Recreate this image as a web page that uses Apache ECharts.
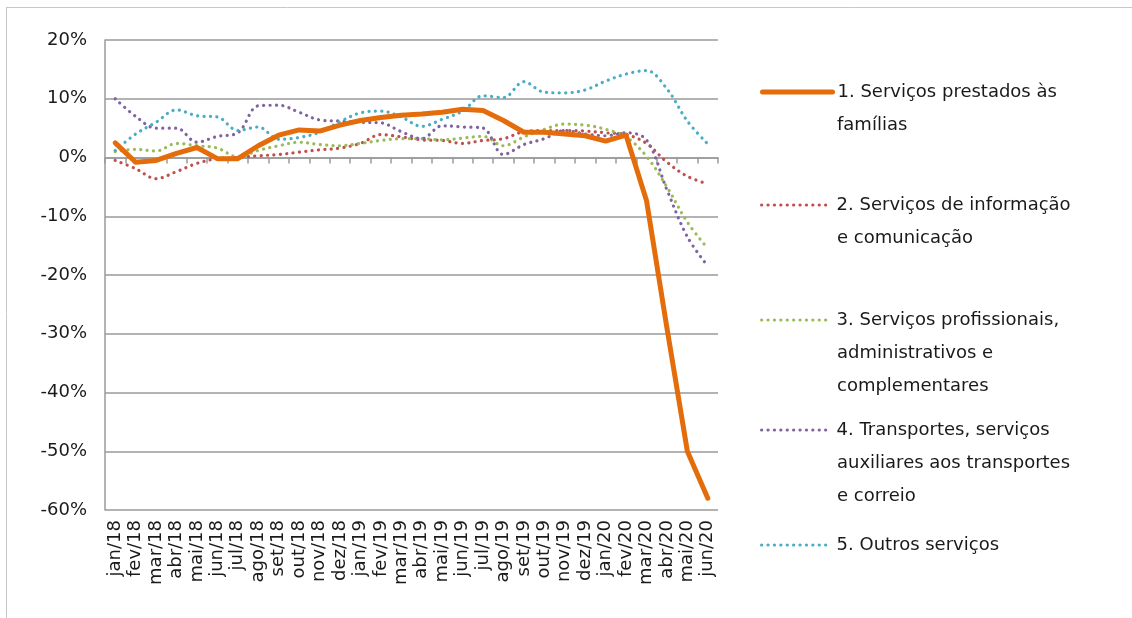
<!DOCTYPE html>
<html>
<head>
<meta charset="utf-8">
<script src="https://cdn.jsdelivr.net/npm/echarts@6/dist/echarts.min.js"></script>
<style>
html,body{margin:0;padding:0;background:#fff;}
#chart{width:1132px;height:618px;}
</style>
</head>
<body>
<div id="chart"></div>
<script>
const categories = ['jan/18','fev/18','mar/18','abr/18','mai/18','jun/18','jul/18','ago/18','set/18','out/18','nov/18','dez/18','jan/19','fev/19','mar/19','abr/19','mai/19','jun/19','jul/19','ago/19','set/19','out/19','nov/19','dez/19','jan/20','fev/20','mar/20','abr/20','mai/20','jun/20'];

const seriesNames = [
  '1. Serviços prestados às\nfamílias',
  '2. Serviços de informação\ne comunicação',
  '3. Serviços profissionais,\nadministrativos e\ncomplementares',
  '4. Transportes, serviços\nauxiliares aos transportes\ne correio',
  '5. Outros serviços'
];

const familias = [2.5, -0.8, -0.5, 0.7, 1.7, -0.2, -0.2, 2.0, 3.8, 4.7, 4.5, 5.5, 6.3, 6.8, 7.2, 7.4, 7.7, 8.2, 8.0, 6.3, 4.3, 4.3, 4.0, 3.7, 2.8, 3.8, -7.3, -29, -50, -58];
const informacao = [-0.5, -1.9, -3.6, -2.4, -1.0, -0.2, 0, 0.3, 0.5, 0.9, 1.3, 1.6, 2.4, 3.9, 3.5, 3.0, 2.9, 2.4, 2.9, 3.2, 4.4, 4.6, 4.6, 4.5, 4.2, 3.9, 2.4, -0.8, -3.2, -4.5];
const profissionais = [1.0, 1.4, 1.1, 2.4, 2.0, 1.6, 0.1, 1.2, 2.0, 2.6, 2.2, 2.0, 2.4, 2.9, 3.2, 3.2, 3.0, 3.3, 3.6, 2.0, 3.5, 4.8, 5.7, 5.5, 4.8, 3.5, 0.2, -5, -11, -15.5];
const transportes = [10.0, 7.0, 5.0, 5.0, 2.6, 3.6, 4.2, 8.8, 8.9, 7.7, 6.4, 6.2, 6.0, 5.9, 4.4, 3.2, 5.4, 5.2, 5.0, 0.5, 2.2, 3.2, 4.6, 4.0, 3.7, 4.2, 3.0, -5.5, -13.5, -18.5];
const outros = [1.2, 4.0, 6.0, 8.1, 7.1, 6.9, 4.6, 5.2, 3.1, 3.4, 4.3, 6.1, 7.6, 7.9, 6.9, 5.3, 6.5, 7.9, 10.5, 10.2, 12.9, 11.1, 11.0, 11.5, 13.0, 14.2, 14.8, 11.7, 6.2, 2.3];

const yTicks = {min: -60, max: 20, interval: 10};

const colors = ['#E46C0A', '#C0504D', '#9BBB59', '#8064A2', '#4BACC6'];
const FONT = 'DejaVu Sans';
const LH = 33;
const LEG_LEFT = 760, LEG_ICON_W = 70, LEG_TEXT_GAP = 5;

const chart = echarts.init(document.getElementById('chart'), null, {renderer: 'canvas'});

const mainLine = {width: 5, cap: 'round', join: 'round'};
const dotLine = {width: 3.2, type: [0.1, 6.3], cap: 'round'};

const dataSets = [familias, informacao, profissionais, transportes, outros];
const series = dataSets.map((d, i) => {
  const isMain = i === 0;
  return {
    name: seriesNames[i],
    type: 'line',
    data: d,
    xAxisIndex: 0,
    symbol: 'none',
    smooth: isMain ? false : 0.35,
    z: isMain ? 10 : 5,
    lineStyle: Object.assign({color: colors[i]}, isMain ? mainLine : dotLine),
    itemStyle: {color: colors[i]}
  };
});

// one legend per series: icon with first line; further lines as text below it
const legendFirstLineY = [92, 205, 320, 430, 545];
const legends = seriesNames.map((nm, i) => ({
  left: LEG_LEFT,
  top: legendFirstLineY[i] - LH / 2,
  padding: 0,
  orient: 'vertical',
  itemWidth: LEG_ICON_W,
  itemHeight: 14,
  itemGap: 0,
  selectedMode: false,
  itemStyle: {opacity: 0},
  lineStyle: Object.assign({color: colors[i]}, i === 0 ? mainLine : dotLine),
  data: [nm],
  formatter: (name) => name.split('\n')[0],
  textStyle: {fontFamily: FONT, fontSize: 18, color: '#1a1a1a', lineHeight: LH}
}));

const extraLegendText = [];
seriesNames.forEach((nm, i) => {
  const lines = nm.split('\n');
  lines.slice(1).forEach((ln, k) => {
    extraLegendText.push({
      type: 'text',
      left: LEG_LEFT + LEG_ICON_W + LEG_TEXT_GAP + 2,
      top: legendFirstLineY[i] + (k + 1) * LH - LH / 2,
      silent: true,
      style: {text: ln, font: '18px "DejaVu Sans"', fill: '#1a1a1a', lineHeight: LH, verticalAlign: 'top'}
    });
  });
});

const option = {
  backgroundColor: '#fff',
  animation: false,
  grid: {left: 105, right: 414, top: 40, bottom: 108, containLabel: false},
  legend: legends,
  xAxis: [
    {
      type: 'category',
      data: categories,
      boundaryGap: true,
      position: 'bottom',
      axisLine: {show: false, onZero: false},
      axisTick: {show: false},
      axisLabel: {rotate: 90, fontFamily: FONT, fontSize: 18, color: '#1a1a1a', margin: 10, interval: 0},
      splitLine: {show: false}
    },
    {
      type: 'category',
      data: categories,
      boundaryGap: true,
      position: 'bottom',
      axisLine: {show: true, onZero: true, lineStyle: {color: '#9a9a9a', width: 1.5}},
      axisTick: {show: true, inside: false, length: 6, interval: 0, lineStyle: {color: '#9a9a9a', width: 1.5}},
      axisLabel: {show: false},
      splitLine: {show: false}
    }
  ],
  yAxis: {
    type: 'value',
    min: yTicks.min,
    max: yTicks.max,
    interval: yTicks.interval,
    axisLine: {show: true, lineStyle: {color: '#9a9a9a', width: 1.5}},
    axisTick: {show: false},
    axisLabel: {formatter: '{value}%', fontFamily: FONT, fontSize: 18, color: '#1a1a1a', margin: 18},
    splitLine: {show: true, lineStyle: {color: '#9a9a9a', width: 1.5}}
  },
  graphic: [
    {type: 'line', shape: {x1: 6, y1: 7.5, x2: 1132, y2: 7.5}, style: {stroke: '#c8c8c8', lineWidth: 1}, silent: true},
    {type: 'line', shape: {x1: 6.5, y1: 7, x2: 6.5, y2: 618}, style: {stroke: '#c8c8c8', lineWidth: 1}, silent: true}
  ].concat(extraLegendText),
  series: series
};

chart.setOption(option);
</script>
</body>
</html>
